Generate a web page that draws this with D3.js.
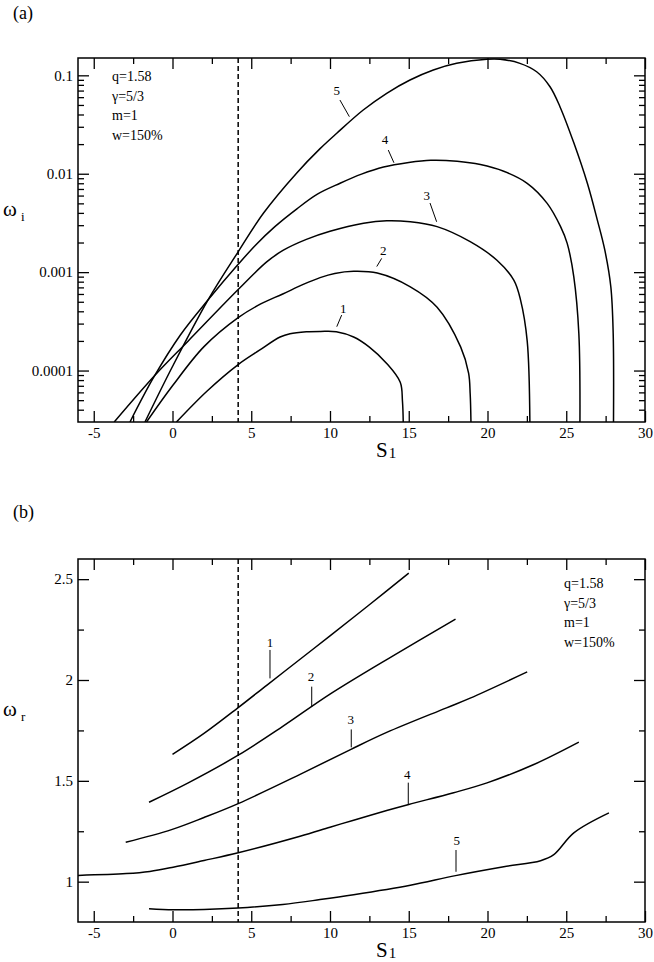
<!DOCTYPE html>
<html>
<head>
<meta charset="utf-8">
<script src="https://cdn.jsdelivr.net/npm/d3@7"></script>
<style>
  html, body { margin: 0; padding: 0; background: #fff; }
  svg { display: block; }
  svg text { font-family: 'Liberation Serif', 'Times New Roman', Times, 'Nimbus Roman', 'DejaVu Serif', serif !important; fill: #000; }
</style>
</head>
<body>
<svg id="chart" width="654" height="962"></svg>
<script>
// ---------------- data ----------------
const sTicks = [-5, 0, 5, 10, 15, 20, 25, 30];
const sMinorTicks = [-2.5, 2.5, 7.5, 12.5, 17.5, 22.5, 27.5];
const wiTicks = [0.1, 0.01, 0.001, 0.0001];
const wiTickLabels = ["0.1", "0.01", "0.001", "0.0001"];
const wrTicks = [1, 1.5, 2, 2.5];
const wrTickLabels = ["1", "1.5", "2", "2.5"];
const wrMinorTicks = [1.25, 1.75, 2.25];
const sCritical = 4.17;
const paramLines = ["q=1.58", "γ=5/3", "m=1", "w=150%"];

// (a) growth rate omega_i vs S1
const growth1 = [[0.25,3e-5],[2.2,6.2e-5],[4.17,1.15e-4],[5.5,1.6e-4],[6.83,2.19e-4],[7.46,2.37e-4],[8.5,2.48e-4],[9.4,2.5e-4],[10.4,2.48e-4],[11.5,2.19e-4],[12.5,1.73e-4],[13.6,1.18e-4],[14.46,7.6e-5],[14.6,4.9e-5],[14.65,3e-5]];
const growth2 = [[-1.65,3e-5],[0,7e-5],[2,1.75e-4],[4.17,3.45e-4],[5.6,4.75e-4],[7,6.0e-4],[8.3,7.5e-4],[9.37,8.8e-4],[10.3,9.7e-4],[11.5,1.02e-3],[13,9.8e-4],[15.1,7.1e-4],[16.8,4.4e-4],[18.3,1.73e-4],[18.8,9.4e-5],[18.9,5.8e-5],[18.95,3e-5]];
const growth3 = [[-3.7,3e-5],[-1.1,9e-5],[1,2e-4],[4.17,6.65e-4],[5.98,1.27e-3],[7.04,1.67e-3],[8.5,2.15e-3],[10,2.6e-3],[12.13,3.14e-3],[13.6,3.33e-3],[15.1,3.25e-3],[16.8,2.9e-3],[18.9,2.04e-3],[20.6,1.32e-3],[21.67,8.3e-4],[22.1,5.2e-4],[22.52,2.0e-4],[22.69,3e-5]];
const growth4 = [[-2.7,3e-5],[-1.2,8.5e-5],[0.5,2.3e-4],[2.25,5.2e-4],[4.17,1.2e-3],[5.3,1.9e-3],[6.5,2.9e-3],[7.9,4.4e-3],[9.2,6.2e-3],[10.64,8.0e-3],[12,9.9e-3],[13.4,1.17e-2],[15,1.3e-2],[16.4,1.37e-2],[18.07,1.34e-2],[19.55,1.24e-2],[21.03,1.06e-2],[22.52,8.0e-3],[23.79,5.0e-3],[24.64,2.9e-3],[25.06,1.96e-3],[25.48,8.95e-4],[25.8,2.37e-4],[25.87,3e-5]];
const growth5 = [[-1.75,3e-5],[0,1.1e-4],[2.25,5.2e-4],[4.17,1.61e-3],[5.77,3.97e-3],[7.89,1.02e-2],[9.37,1.8e-2],[10.43,2.58e-2],[12.11,4.44e-2],[13.6,6.57e-2],[15.08,8.96e-2],[16.56,0.1133],[18.04,0.1324],[19.95,0.1455],[20.8,0.1455],[22.06,0.1324],[23.12,0.1087],[23.97,0.0766],[24.6,0.048],[25.48,0.0206],[26.34,8e-3],[26.97,3.4e-3],[27.45,1.67e-3],[27.83,7.1e-4],[27.98,2.39e-4],[28.0,3e-5]];

// (b) real frequency omega_r vs S1
const freq1 = [[0,1.631],[2,1.735],[4.17,1.863],[6,1.975],[8.1,2.103],[10,2.219],[12.5,2.373],[15,2.53]];
const freq2 = [[-1.49,1.394],[1,1.49],[4.17,1.627],[7,1.77],[10,1.93],[14,2.12],[17.97,2.302]];
const freq3 = [[-2.97,1.195],[-0.06,1.258],[2,1.318],[4.17,1.387],[8.1,1.532],[11.3,1.655],[13.6,1.74],[17.4,1.862],[18.9,1.91],[22.52,2.04]];
const freq4 = [[-6,1.031],[-2.93,1.04],[-1.44,1.051],[0.04,1.072],[2,1.105],[4.17,1.143],[8.1,1.225],[10,1.27],[11.5,1.305],[13.6,1.353],[15,1.383],[17.85,1.441],[19.97,1.49],[22.94,1.581],[25.8,1.692]];
const freq5 = [[-1.49,0.866],[0.04,0.861],[2,0.862],[4.17,0.869],[7,0.887],[9.37,0.911],[11.5,0.935],[15.1,0.982],[17.97,1.03],[21.03,1.074],[23.37,1.104],[24.21,1.134],[25.48,1.242],[27.71,1.341]];

// curve-number annotations: text anchor and leader segment (data coords)
const growthLabels = [
  {t:"1", at:[10.84,4.28e-4], from:[10.74,3.66e-4], to:[10.43,2.79e-4]},
  {t:"2", at:[13.38,1.68e-3], from:[13.28,1.38e-3], to:[12.97,1.14e-3]},
  {t:"3", at:[16.14,6.07e-3], from:[16.35,5.04e-3], to:[16.77,3.25e-3]},
  {t:"4", at:[13.49,2.24e-2], from:[13.70,1.74e-2], to:[14.06,1.293e-2]},
  {t:"5", at:[10.43,7.08e-2], from:[10.63,5.61e-2], to:[11.23,3.80e-2]}
];
const freqLabels = [
  {t:"1", at:[6.19,2.185], from:[6.19,2.149], to:[6.19,2.008]},
  {t:"2", at:[8.80,2.02], from:[8.84,1.967], to:[8.84,1.868]},
  {t:"3", at:[11.31,1.802], from:[11.35,1.755], to:[11.35,1.666]},
  {t:"4", at:[14.91,1.534], from:[14.97,1.491], to:[14.97,1.385]},
  {t:"5", at:[18.04,1.203], from:[18.0,1.157], to:[18.0,1.049]}
];

// ---------------- drawing ----------------
const FONT = "'Liberation Serif', 'Times New Roman', Times, 'Nimbus Roman', 'DejaVu Serif', serif";
const svg = d3.select("#chart");
const X0 = 78, X1 = 645;
const x = d3.scaleLinear().domain([-6, 30]).range([X0, X1]);

function panel(opts) {
  const {top, bottom, y, yMajor, yMajorLabels, yMinor, curves, labels, params, paramX, paramY0, panelTag, tagY, yTitleSub} = opts;
  const g = svg.append("g");
  const clipId = "clip" + panelTag;
  svg.append("clipPath").attr("id", clipId).append("rect")
    .attr("x", X0).attr("y", top).attr("width", X1 - X0).attr("height", bottom - top);

  g.append("g").attr("transform", `translate(0,${bottom})`)
    .call(d3.axisBottom(x).tickValues(sTicks).tickSizeInner(-11).tickSizeOuter(0).tickPadding(5).tickFormat(d => d));
  g.append("g").attr("transform", `translate(0,${bottom})`)
    .call(d3.axisBottom(x).tickValues(sMinorTicks).tickSizeInner(-6).tickSizeOuter(0).tickFormat(""));
  g.append("g").attr("transform", `translate(0,${top})`)
    .call(d3.axisTop(x).tickValues(sTicks).tickSizeInner(-11).tickSizeOuter(0).tickFormat(""));
  g.append("g").attr("transform", `translate(0,${top})`)
    .call(d3.axisTop(x).tickValues(sMinorTicks).tickSizeInner(-6).tickSizeOuter(0).tickFormat(""));
  g.append("g").attr("transform", `translate(${X0},0)`)
    .call(d3.axisLeft(y).tickValues(yMajor).tickSizeInner(-11).tickSizeOuter(0).tickPadding(5)
      .tickFormat((d, i) => yMajorLabels[i]));
  g.append("g").attr("transform", `translate(${X0},0)`)
    .call(d3.axisLeft(y).tickValues(yMinor).tickSizeInner(-6).tickSizeOuter(0).tickFormat(""));
  g.append("g").attr("transform", `translate(${X1},0)`)
    .call(d3.axisRight(y).tickValues(yMajor).tickSizeInner(-11).tickSizeOuter(0).tickFormat(""));
  g.append("g").attr("transform", `translate(${X1},0)`)
    .call(d3.axisRight(y).tickValues(yMinor).tickSizeInner(-6).tickSizeOuter(0).tickFormat(""));
  g.selectAll(".domain").remove();
  g.selectAll("g").attr("font-family", FONT);
  g.selectAll(".tick line").attr("stroke", "#000").attr("stroke-width", 1.3);
  g.selectAll(".tick text").attr("font-family", FONT).attr("font-size", 15).attr("fill", "#000");

  g.append("rect").attr("x", X0).attr("y", top).attr("width", X1 - X0).attr("height", bottom - top)
    .attr("fill", "none").attr("stroke", "#000").attr("stroke-width", 1.5);

  g.append("line").attr("x1", x(sCritical)).attr("x2", x(sCritical)).attr("y1", top).attr("y2", bottom)
    .attr("stroke", "#000").attr("stroke-width", 1.5).attr("stroke-dasharray", "5,3");

  const line = d3.line().x(d => x(d[0])).y(d => y(d[1])).curve(d3.curveCatmullRom.alpha(0.5));
  const cg = g.append("g").attr("clip-path", `url(#${clipId})`);
  curves.forEach(c => {
    cg.append("path").attr("d", line(c)).attr("fill", "none").attr("stroke", "#000").attr("stroke-width", 1.5);
  });

  labels.forEach(l => {
    g.append("text").attr("x", x(l.at[0])).attr("y", y(l.at[1])).attr("dy", "0.35em")
      .attr("text-anchor", "middle").attr("font-size", 13).attr("font-family", FONT).text(l.t);
    g.append("line").attr("x1", x(l.from[0])).attr("y1", y(l.from[1]))
      .attr("x2", x(l.to[0])).attr("y2", y(l.to[1])).attr("stroke", "#000").attr("stroke-width", 1);
  });

  params.forEach((p, i) => {
    g.append("text").attr("x", paramX).attr("y", paramY0 + i * 19.5).attr("font-size", 14)
      .attr("font-family", FONT).text(p);
  });

  svg.append("text").attr("x", 13).attr("y", tagY).attr("font-size", 18).attr("font-family", FONT).text(`(${panelTag})`);

  const yt = svg.append("text").attr("x", 3).attr("y", opts.yTitleY).attr("font-size", 21).attr("font-family", FONT);
  yt.append("tspan").text("ω");
  yt.append("tspan").attr("x", 21).attr("dy", 5).attr("font-size", 13).text(yTitleSub);

  const xt = svg.append("text").attr("x", 376).attr("y", bottom + 35).attr("font-size", 21).attr("font-family", FONT);
  xt.append("tspan").text("S");
  xt.append("tspan").attr("dx", 1).attr("dy", 1).attr("font-size", 15).text("1");
}

const yA = d3.scaleLog().domain([3e-5, 0.15]).range([422, 58]);
const minorA = [];
[1e-5, 1e-4, 1e-3, 1e-2].forEach(dec => {
  for (let k = 2; k <= 9; k++) {
    const v = k * dec;
    if (v > 3.01e-5 && v < 0.15) minorA.push(v);
  }
});

panel({
  top: 58, bottom: 422, y: yA, yMajor: wiTicks, yMajorLabels: wiTickLabels, yMinor: minorA,
  curves: [growth1, growth2, growth3, growth4, growth5], labels: growthLabels,
  params: paramLines, paramX: 112, paramY0: 81, panelTag: "a", tagY: 19,
  yTitleY: 216, yTitleSub: "i"
});

const yB = d3.scaleLinear().domain([0.8, 2.6]).range([922, 559]);
panel({
  top: 559, bottom: 922, y: yB, yMajor: wrTicks, yMajorLabels: wrTickLabels, yMinor: wrMinorTicks,
  curves: [freq1, freq2, freq3, freq4, freq5], labels: freqLabels,
  params: paramLines, paramX: 564, paramY0: 588, panelTag: "b", tagY: 518,
  yTitleY: 716, yTitleSub: "r"
});
</script>
</body>
</html>
